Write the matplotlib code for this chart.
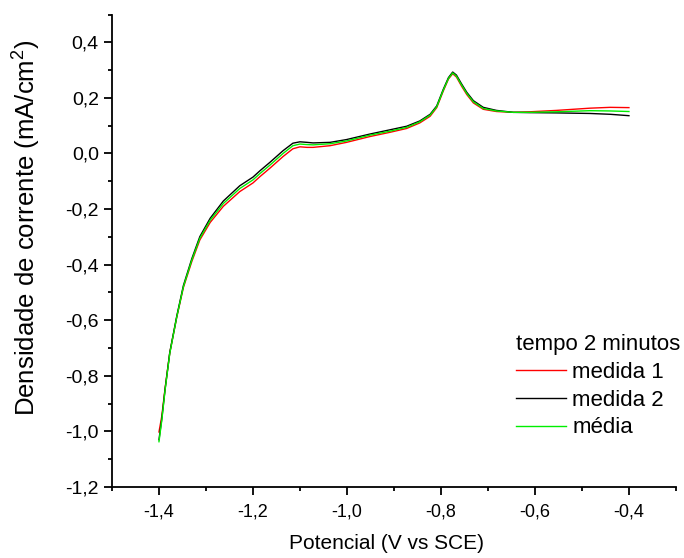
import numpy as np
import matplotlib
matplotlib.use('Agg')
import matplotlib.pyplot as plt
from matplotlib.ticker import MultipleLocator, FuncFormatter

# potential (V vs SCE)
potencial = [-1.400, -1.394, -1.387, -1.377, -1.362, -1.348, -1.330, -1.313, -1.291,
             -1.263, -1.228, -1.200, -1.185, -1.164, -1.136, -1.115, -1.100, -1.085,
             -1.072, -1.036, -1.001, -0.951, -0.909, -0.873, -0.845, -0.823, -0.809,
             -0.795, -0.784, -0.775, -0.767, -0.756, -0.745, -0.731, -0.710, -0.682,
             -0.646, -0.611, -0.554, -0.483, -0.440, -0.400]

# current density (mA/cm2)
medida_1 = [-1.002, -0.945, -0.845, -0.717, -0.588, -0.482, -0.388, -0.311, -0.248,
            -0.190, -0.137, -0.106, -0.083, -0.053, -0.011, 0.017, 0.024, 0.022,
            0.022, 0.028, 0.040, 0.061, 0.076, 0.090, 0.110, 0.134, 0.165,
            0.225, 0.268, 0.287, 0.275, 0.242, 0.212, 0.182, 0.159, 0.151,
            0.148, 0.150, 0.155, 0.163, 0.166, 0.165]
medida_2 = [-1.030, -0.955, -0.848, -0.716, -0.584, -0.475, -0.378, -0.299, -0.233,
            -0.171, -0.116, -0.085, -0.062, -0.032, 0.010, 0.037, 0.042, 0.040,
            0.038, 0.040, 0.050, 0.070, 0.085, 0.098, 0.117, 0.141, 0.171,
            0.231, 0.273, 0.293, 0.282, 0.250, 0.220, 0.190, 0.166, 0.155,
            0.148, 0.147, 0.146, 0.144, 0.141, 0.136]
media = [-1.037, -0.960, -0.851, -0.719, -0.587, -0.479, -0.383, -0.305, -0.240,
         -0.180, -0.126, -0.095, -0.072, -0.042, 0.000, 0.028, 0.034, 0.032,
         0.031, 0.035, 0.045, 0.066, 0.080, 0.094, 0.114, 0.138, 0.168,
         0.228, 0.270, 0.290, 0.278, 0.246, 0.216, 0.186, 0.162, 0.153,
         0.148, 0.148, 0.150, 0.154, 0.153, 0.151]

plt.rcParams['font.family'] = ['Liberation Sans', 'DejaVu Sans']
plt.rcParams['mathtext.default'] = 'regular'

fig = plt.figure(figsize=(6.84, 5.58), dpi=100)
ax = fig.add_axes([0.1637, 0.1272, 0.8245, 0.8468])

ax.plot(potencial, medida_1, color='#ff0000', lw=1.0, label='medida 1')
ax.plot(potencial, medida_2, color='black', lw=1.0, label='medida 2')
ax.plot(potencial, media, color='#00ee00', lw=1.0, label='média')

ax.set_xlim(-1.5, -0.3)
ax.set_ylim(-1.2, 0.5)

ax.spines['top'].set_visible(False)
ax.spines['right'].set_visible(False)
for s in ['left', 'bottom']:
    ax.spines[s].set_linewidth(1.3)

ax.xaxis.set_major_locator(MultipleLocator(0.2))
ax.xaxis.set_minor_locator(MultipleLocator(0.1))
ax.yaxis.set_major_locator(MultipleLocator(0.2))
ax.yaxis.set_minor_locator(MultipleLocator(0.1))

comma = FuncFormatter(lambda v, p: f'{v:.1f}'.replace('.', ',').replace('-0,0', '0,0'))
ax.xaxis.set_major_formatter(comma)
ax.yaxis.set_major_formatter(comma)
ax.set_yticks(np.arange(-1.2, 0.41, 0.2))

ax.tick_params(which='major', direction='out', length=6, width=1.3)
ax.tick_params(which='minor', direction='out', length=3, width=1.3)
ax.tick_params(axis='x', which='major', labelsize=13, pad=6)
ax.tick_params(axis='y', which='major', labelsize=14, pad=3.5)

ax.set_xlabel('Potencial (V vs SCE)', fontsize=15)
ax.xaxis.set_label_coords(0.487, -0.100)
ax.set_ylabel('Densidade de corrente (mA/cm$^2$)', fontsize=18.5)
ax.yaxis.set_label_coords(-0.122, 0.548)

leg = ax.legend(title='tempo 2 minutos', loc='upper left', bbox_to_anchor=(0.716, 0.323),
                frameon=False, fontsize=16, title_fontsize=16, handlelength=2.25,
                handletextpad=0.3, labelspacing=0.3, borderpad=0, borderaxespad=0)
leg._legend_box.align = 'left'

fig.savefig('out.png', dpi=100)
